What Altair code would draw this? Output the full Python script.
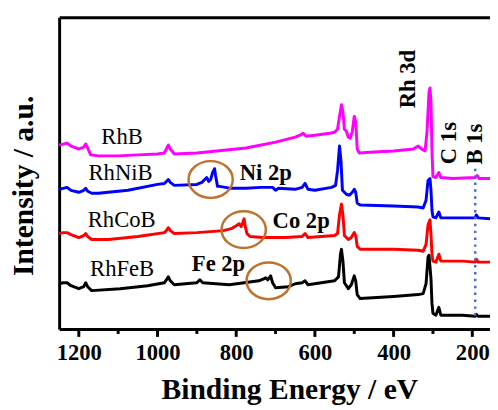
import altair as alt
import pandas as pd

# ---------------- data ----------------
# binding energy (eV) and intensity (a.u., offset traces)
rhb_be = [1250, 1240, 1230, 1220, 1200, 1187.5, 1182.5, 1177.5, 1170, 1150,
          1100, 1050, 1000, 982.5, 977.5, 972.5, 967.5, 957.5, 900, 825,
          775, 700, 650, 637.5, 630, 622.5, 600, 562.5, 550, 542.5,
          537.5, 532.5, 528.75, 525, 520, 515, 510, 505, 500, 496.25,
          492.5, 487.5, 450, 400, 350, 337.5, 325, 320, 315, 310,
          307.5, 305, 302.5, 300, 292.5, 285, 280, 250, 192.5, 187.5,
          182.5, 155]
rhb_i = [187, 188, 189, 186, 183, 185, 188, 184, 177, 176,
         176, 177, 178, 179, 183, 187, 183, 178, 179, 182,
         184, 190, 195, 197, 199, 196, 197, 199, 200, 203,
         216, 228, 221, 203, 201, 195, 194, 201, 216, 211,
         183, 179, 180, 181, 183, 186, 182, 181, 201, 241,
         245, 231, 181, 155, 154, 159, 154, 153, 154, 156,
         153, 153]

rhnib_be = [1250, 1240, 1230, 1220, 1200, 1187.5, 1182.5, 1177.5, 1167.5, 1150,
            1075, 1000, 982.5, 977.5, 972.5, 967.5, 957.5, 900, 887.5, 880,
            875, 870, 865, 860, 855, 852.5, 847.5, 842.5, 812.5, 775,
            737.5, 707.5, 700, 692.5, 650, 632.5, 625, 617.5, 600, 557.5,
            547.5, 542.5, 537.5, 533.75, 530, 520, 512.5, 505, 500, 496.25,
            492.5, 485, 400, 337.5, 325, 317.5, 312.5, 307.5, 305, 302.5,
            300, 292.5, 285, 280, 225, 192.5, 190, 185, 155]
rhnib_i = [142, 143, 144, 141, 139, 141, 143, 140, 138, 138,
           141, 147, 148, 150, 152, 149, 146, 147, 149, 152,
           154, 150, 152, 159, 163, 156, 145, 145, 143, 143,
           144, 144, 141, 143, 142, 144, 148, 142, 141, 144,
           146, 161, 186, 171, 141, 137, 136, 139, 142, 139,
           128, 126, 125, 124, 123, 131, 151, 153, 141, 121,
           114, 113, 119, 113, 113, 113, 116, 113, 112]

rhcob_be = [1250, 1240, 1230, 1220, 1200, 1187.5, 1182.5, 1177.5, 1167.5, 1125,
            1050, 982.5, 977.5, 972.5, 967.5, 957.5, 900, 832.5, 812.5, 800,
            792.5, 787.5, 782.5, 780, 777.5, 772.5, 765, 732.5, 675, 632.5,
            625, 617.5, 550, 542.5, 537.5, 532.5, 528.75, 525, 515, 507.5,
            500, 496.25, 492.5, 485, 400, 337.5, 325, 317.5, 312.5, 307.5,
            305, 302.5, 300, 292.5, 285, 280, 225, 192.5, 190, 185,
            155]
rhcob_i = [97, 98, 98, 96, 93, 95, 97, 94, 91, 91,
           94, 98, 100, 103, 100, 97, 98, 100, 102, 105,
           107, 104, 109, 112, 105, 97, 94, 93, 93, 94,
           97, 93, 95, 97, 116, 127, 116, 95, 91, 93,
           98, 95, 84, 81, 81, 80, 79, 86, 106, 111,
           96, 76, 69, 68, 76, 69, 69, 68, 71, 68,
           68]

rhfeb_be = [1250, 1240, 1230, 1220, 1200, 1187.5, 1182.5, 1177.5, 1167.5, 1095,
            1025, 982.5, 977.5, 972.5, 967.5, 957.5, 900, 892.5, 885, 817.5,
            742.5, 730, 725, 720, 712.5, 707.5, 700, 667.5, 650, 632.5,
            625, 617.5, 550, 540, 535, 532.5, 528.75, 525, 515, 507.5,
            500, 496.25, 492.5, 485, 400, 337.5, 325, 317.5, 312.5, 310,
            305, 302.5, 300, 292.5, 285, 280, 225, 192.5, 190, 185,
            155]
rhfeb_i = [46, 47, 47, 44, 41, 43, 47, 43, 39, 41,
           44, 47, 50, 53, 49, 45, 47, 50, 47, 45,
           49, 51, 52, 50, 54, 47, 42, 43, 46, 47,
           49, 45, 49, 53, 76, 81, 69, 47, 41, 45,
           54, 49, 35, 31, 33, 35, 36, 46, 73, 75,
           51, 26, 16, 14, 22, 14, 14, 13, 15, 13,
           13]

series_names = ["RhFeB", "RhCoB", "RhNiB", "RhB"]
series_colors = ["#000000", "#ff0000", "#0000ff", "#ff00ff"]
series_be = [rhfeb_be, rhcob_be, rhnib_be, rhb_be]
series_i = [rhfeb_i, rhcob_i, rhnib_i, rhb_i]

sample_labels = ["RhB", "RhNiB", "RhCoB", "RhFeB"]
sample_label_be = [1090, 1094, 1091, 1090]
sample_label_i = [188, 151, 104, 54]

peak_labels = ["Ni 2p", "Co 2p", "Fe 2p"]
peak_label_be = [725, 635, 845]
peak_label_i = [151, 103, 59]

core_labels = ["Rh 3d", "C 1s", "B 1s"]
core_label_be = [345, 242.5, 175]
core_label_i = [254, 189, 188]

circle_be = [865, 781, 717.5]
circle_i = [152, 101, 49]

b1s_be = [192.5]
b1s_top = [163]
b1s_bottom = [9]

major_ticks = [1200, 1000, 800, 600, 400, 200]
minor_ticks = [1100, 900, 700, 500, 300]

# ---------------- chart ----------------
FONT = "Liberation Serif"
W, H = 438, 317
MAJOR_LEN, MINOR_LEN = 8, 5
xs = alt.Scale(domain=[1250, 155], nice=False, zero=False)
ys = alt.Scale(domain=[0, 317], nice=False, zero=False)

x_bottom = alt.Axis(
    orient="bottom", values=major_ticks, format="d", ticks=False,
    domainWidth=3, domainColor="black",
    labelFont=FONT, labelFontSize=23, labelFontWeight="bold", labelColor="black",
    labelBaseline="alphabetic", labelPadding=31, labelFlush=False, labelOverlap=False,
    title="Binding Energy / eV", titleFont=FONT, titleFontSize=30,
    titleFontWeight="bold", titleColor="black",
    titleX=234, titleY=71, titleAlign="center", titleBaseline="alphabetic",
    grid=False,
)
x_top = alt.Axis(orient="top", labels=False, ticks=False, title=None, grid=False,
                 domainWidth=3, domainColor="black")
y_left = alt.Axis(
    orient="left", ticks=False, labels=False, grid=False,
    domainWidth=3, domainColor="black",
    title="Intensity / a.u.", titleFont=FONT, titleFontSize=30,
    titleFontWeight="bold", titleColor="black",
    titleAngle=270, titleX=-27, titleY=171, titleAlign="center",
    titleBaseline="alphabetic",
)

layers = []

for k, (nm, col, be, it) in enumerate(zip(series_names, series_colors, series_be, series_i)):
    df = pd.DataFrame({"be": be, "i": it})
    if k == 0:
        xa, ya = x_bottom, y_left
    elif k == 3:
        xa, ya = x_top, None
    else:
        xa, ya = None, None
    layers.append(
        alt.Chart(df).mark_line(color=col, strokeWidth=3, strokeJoin="round")
        .encode(x=alt.X("be:Q", scale=xs, axis=xa),
                y=alt.Y("i:Q", scale=ys, axis=ya))
    )

# B 1s dotted guide (drawn beneath the traces)
b1s_df = pd.DataFrame({"be": b1s_be, "top": b1s_top, "bot": b1s_bottom})
b1s_layer = (
    alt.Chart(b1s_df).mark_rule(color="#4a6cc8", strokeWidth=2.5, strokeDash=[2.5, 4.5])
    .encode(x=alt.X("be:Q", scale=xs, axis=None),
            y=alt.Y("top:Q", scale=ys, axis=None),
            y2="bot:Q")
)

# outward tick marks on the energy axis (major and minor)
major_df = pd.DataFrame({"be": major_ticks})
minor_df = pd.DataFrame({"be": minor_ticks})
major_tick_layer = (
    alt.Chart(major_df).mark_rule(color="black", strokeWidth=3)
    .encode(x=alt.X("be:Q", scale=xs, axis=None), y=alt.value(H), y2=alt.value(H + MAJOR_LEN))
)
minor_tick_layer = (
    alt.Chart(minor_df).mark_rule(color="black", strokeWidth=3)
    .encode(x=alt.X("be:Q", scale=xs, axis=None), y=alt.value(H), y2=alt.value(H + MINOR_LEN))
)

ELLIPSE = "M-1,0A1,0.83,0,1,0,1,0A1,0.83,0,1,0,-1,0Z"
circ_df = pd.DataFrame({"be": circle_be, "i": circle_i})
layers.append(
    alt.Chart(circ_df).mark_point(shape=ELLIPSE, size=2025, filled=False,
                                  color="#c0712c", strokeWidth=2.5, opacity=1)
    .encode(x=alt.X("be:Q", scale=xs, axis=None), y=alt.Y("i:Q", scale=ys, axis=None))
)

s_df = pd.DataFrame({"be": sample_label_be, "i": sample_label_i, "t": sample_labels})
layers.append(
    alt.Chart(s_df).mark_text(font=FONT, fontSize=23, align="center",
                              baseline="alphabetic", color="black")
    .encode(x=alt.X("be:Q", scale=xs, axis=None), y=alt.Y("i:Q", scale=ys, axis=None), text="t:N")
)

p_df = pd.DataFrame({"be": peak_label_be, "i": peak_label_i, "t": peak_labels})
layers.append(
    alt.Chart(p_df).mark_text(font=FONT, fontSize=23, fontWeight="bold", align="center",
                              baseline="alphabetic", color="black")
    .encode(x=alt.X("be:Q", scale=xs, axis=None), y=alt.Y("i:Q", scale=ys, axis=None), text="t:N")
)

c_df = pd.DataFrame({"be": core_label_be, "i": core_label_i, "t": core_labels})
layers.append(
    alt.Chart(c_df).mark_text(font=FONT, fontSize=23, fontWeight="bold", align="center",
                              baseline="alphabetic", angle=270, color="black")
    .encode(x=alt.X("be:Q", scale=xs, axis=None), y=alt.Y("i:Q", scale=ys, axis=None), text="t:N")
)

chart = (
    alt.layer(*layers[:4], b1s_layer, major_tick_layer, minor_tick_layer, *layers[4:])
    .resolve_axis(x="independent", y="independent")
    .properties(width=W, height=H,
                padding={"left": 52, "top": 6, "right": 0, "bottom": 79},
                autosize=alt.AutoSizeParams(type="none"),
                background="white")
    .configure_view(stroke=None)
)

chart.save("out.html", embed_options={"renderer": "svg", "actions": False})
